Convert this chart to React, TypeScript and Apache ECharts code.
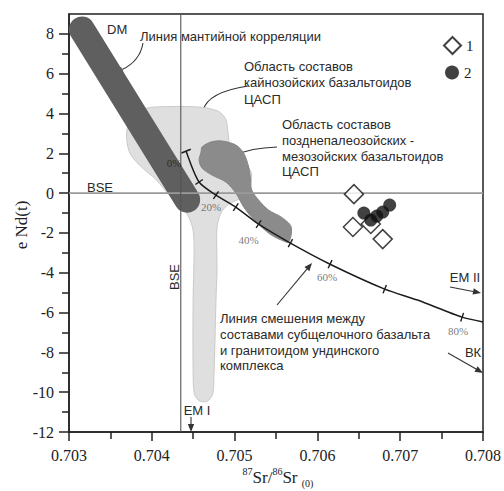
import React, { useEffect, useRef } from "react";
import * as echarts from "echarts";

// ---------- data ----------
const xTickValues = [0.703, 0.704, 0.705, 0.706, 0.707, 0.708];
const yMajorTicks = [-12, -10, -8, -6, -4, -2, 0, 2, 4, 6, 8];
const yMinorTicks = [-11, -9, -7, -5, -3, -1, 1, 3, 5, 7];

// Cenozoic basaltoids field (light grey)
const cenozoicArea: [number, number][] = [
  [0.703695, 3.02], [0.70375, 3.8], [0.70388, 4.2], [0.70405, 4.33],
  [0.70455, 4.33], [0.7048, 4.12], [0.704895, 3.7], [0.70492, 3.02],
  [0.704954, 2.17], [0.70505, 1.56], [0.70517, 1.26], [0.705206, 0.91],
  [0.70517, 0.16], [0.705074, -0.25], [0.70493, -0.55], [0.704835, -1.0],
  [0.704787, -1.75], [0.704787, -3.36], [0.704787, -4.01], [0.704775, -5.37],
  [0.704763, -7.38], [0.704751, -9.14], [0.704735, -10.1], [0.70467, -10.45],
  [0.70458, -10.45], [0.704515, -10.1], [0.704499, -8.89], [0.704499, -5.37],
  [0.704511, -2.86], [0.704499, -1.86], [0.704451, -1.25], [0.704367, -0.7],
  [0.704211, -0.09], [0.704055, 0.66], [0.703851, 1.41], [0.70373, 2.06],
];

// Late Paleozoic - Mesozoic basaltoids field (mid grey)
const paleoMesoArea: [number, number][] = [
  [0.704607, 2.32], [0.704715, 2.57], [0.704847, 2.62], [0.705014, 2.42],
  [0.70511, 2.01], [0.70517, 1.31], [0.705194, 0.66], [0.705206, 0.16],
  [0.70529, -0.35], [0.70541, -0.85], [0.705566, -1.21], [0.705674, -1.61],
  [0.705686, -2.01], [0.70565, -2.46], [0.705566, -2.36], [0.705446, -2.11],
  [0.705326, -1.71], [0.705206, -1.21], [0.70511, -0.7], [0.705014, 0.01],
  [0.704894, 0.56], [0.704727, 0.91], [0.704607, 1.26], [0.704571, 1.66],
  [0.704595, 2.06],
];

// Mantle correlation line (DM band)
const dmBand: [number, number][] = [
  [0.703156, 8.22],
  [0.704427, -0.33],
];

// BSE reference lines
const bseNdLine: [number, number][] = [[0.703, 0], [0.708, 0]];
const bseSrLine: [number, number][] = [[0.70435, -12], [0.70435, 9]];

// Mixing line between subalkaline basalt and Unda granitoid
const mixingLine: [number, number][] = [
  [0.704415, 2.11], [0.704571, 0.56], [0.704775, -0.1], [0.705014, -0.7],
  [0.70529, -1.56], [0.705674, -2.51], [0.706153, -3.57], [0.706813, -4.82],
  [0.707209, -5.37], [0.707748, -6.23], [0.708, -6.47],
];
const mixingTickFlags = [true, true, true, true, true, true, true, true, false, true, false];
const mixingPercentLabels = ["0%", "", "20%", "", "40%", "", "60%", "", "", "80%", ""];

// Samples
const group1Sr = [0.706441, 0.706429, 0.706645, 0.706789];
const group1Nd = [-0.05, -1.7, -1.55, -2.31];
const group2Sr = [0.706873, 0.706789, 0.706561, 0.706645, 0.706717];
const group2Nd = [-0.6, -0.95, -1.0, -1.35, -1.15];

// ---------- layout / style ----------
const W = 504;
const H = 491;
const GRID = { left: 69, right: 18, top: 14, bottom: 59 };
const X_MIN = 0.703;
const X_MAX = 0.708;
const Y_MIN = -12;
const Y_MAX = 9;
const PX_PER_X = (W - GRID.left - GRID.right) / (X_MAX - X_MIN);
const PX_PER_Y = (H - GRID.top - GRID.bottom) / (Y_MAX - Y_MIN);

const percentOffsets: [number, number][] = [
  [-12, 12], [0, 0], [-5, 12], [0, 0], [-10, 16], [0, 0], [-3, 13], [0, 0], [0, 0], [-4, 14], [0, 0],
];
const percentColors = ["#1e1e1e", "", "#555", "", "#555", "", "#555", "", "", "#555", ""];

const SANS = `"Liberation Sans", Arial, sans-serif`;
const SERIF = `"Liberation Serif", "Times New Roman", serif`;
const INK = "#222";

function tickRotation(i: number): number {
  const a = mixingLine[Math.max(0, i - 1)];
  const b = mixingLine[Math.min(mixingLine.length - 1, i + 1)];
  const dx = (b[0] - a[0]) * PX_PER_X;
  const dy = (b[1] - a[1]) * PX_PER_Y;
  return (Math.atan2(dy, dx) * 180) / Math.PI;
}

function arrow(x1: number, y1: number, x2: number, y2: number, cx?: number, cy?: number): any[] {
  const ctrlX = cx ?? (x1 + x2) / 2;
  const ctrlY = cy ?? (y1 + y2) / 2;
  const dx = x2 - ctrlX;
  const dy = y2 - ctrlY;
  const len = Math.hypot(dx, dy) || 1;
  const ux = dx / len;
  const uy = dy / len;
  const headLen = 8;
  const headW = 3.2;
  const bx = x2 - ux * headLen;
  const by = y2 - uy * headLen;
  return [
    {
      type: "bezierCurve",
      silent: true,
      shape: { x1, y1, x2: bx, y2: by, cpx1: ctrlX, cpy1: ctrlY },
      style: { stroke: "#333", lineWidth: 1.1, fill: "none" },
    },
    {
      type: "polygon",
      silent: true,
      shape: {
        points: [
          [x2, y2],
          [bx - uy * headW, by + ux * headW],
          [bx + uy * headW, by - ux * headW],
        ],
      },
      style: { fill: "#333", stroke: "none" },
    },
  ];
}

function text(str: string, x: number, y: number, opts: any = {}): any {
  return {
    type: "text",
    silent: true,
    x,
    y,
    rotation: opts.rotation ?? 0,
    style: {
      text: str,
      font: opts.font ?? `13px ${SANS}`,
      fill: opts.fill ?? "#2a2a2a",
      align: opts.align ?? "left",
      verticalAlign: opts.verticalAlign ?? "middle",
      lineHeight: opts.lineHeight ?? 16,
    },
  };
}

function polygonSeries(name: string, pts: [number, number][], fill: string, stroke: string, z: number) {
  return {
    type: "custom",
    name,
    coordinateSystem: "cartesian2d",
    silent: true,
    z,
    data: [pts[0]],
    renderItem: (_params: any, api: any) => ({
      type: "polygon",
      shape: { points: pts.map((p) => api.coord(p)), smooth: 0.3 },
      style: { fill, stroke, lineWidth: 1 },
    }),
  };
}

function buildOption(): any {
  const mixingData = mixingLine.map((p, i) => {
    if (!mixingTickFlags[i]) return { value: p, symbol: "none" };
    return {
      value: p,
      symbol: "rect",
      symbolSize: i === 0 ? [1.6, 10] : [1.4, 9],
      symbolRotate: tickRotation(i),
    };
  });

  const percentData = mixingLine
    .map((p, i) => ({ p, i }))
    .filter(({ i }) => mixingPercentLabels[i] !== "")
    .map(({ p, i }) => ({
      value: p,
      label: {
        show: true,
        position: "inside",
        offset: percentOffsets[i],
        formatter: mixingPercentLabels[i],
        color: percentColors[i],
      },
    }));

  const graphics: any[] = [
    text("DM", 107, 29),
    text("Линия мантийной корреляции", 140, 36),
    text("Область составов\nкайнозойских базальтоидов\nЦАСП", 244, 58, { verticalAlign: "top", lineHeight: 16.5 }),
    text("Область составов\nпозднепалеозойских -\nмезозойских базальтоидов\nЦАСП", 282, 117, {
      verticalAlign: "top",
      lineHeight: 15.7,
    }),
    text(
      "Линия смешения между\nсоставами субщелочного базальта\nи гранитоидом ундинского\nкомплекса",
      220,
      311,
      { verticalAlign: "top", lineHeight: 15.7 }
    ),
    text("BSE", 100, 187, { align: "center" }),
    text("BSE", 174, 277, { align: "center", rotation: Math.PI / 2 }),
    text("EM I", 197, 410, { align: "center" }),
    text("EM II", 465, 277, { align: "center" }),
    text("ВК", 473, 352, { align: "center" }),
    text("e Nd(t)", 21, 225, { align: "center", rotation: Math.PI / 2, font: `17px ${SERIF}`, fill: INK }),
    {
      type: "text",
      silent: true,
      x: 278,
      y: 477,
      style: {
        text: "{sup|87}{b|Sr/}{sup|86}{b|Sr }{sub|(0)}",
        align: "center",
        verticalAlign: "middle",
        fill: INK,
        rich: {
          b: { fontFamily: SERIF, fontSize: 17, lineHeight: 22, verticalAlign: "middle", fill: INK },
          sup: { fontFamily: SERIF, fontSize: 10, lineHeight: 22, verticalAlign: "top", fill: INK },
          sub: { fontFamily: SERIF, fontSize: 10, lineHeight: 22, verticalAlign: "bottom", fill: INK },
        },
      },
    },
    ...arrow(143, 43, 115, 73, 140, 61),
    ...arrow(248, 86, 201, 118, 208, 92),
    ...arrow(277, 147, 228, 159, 250, 148),
    ...arrow(277, 305, 312, 263),
    ...arrow(450, 287, 481, 293),
    ...arrow(448, 353, 483, 373),
    ...arrow(191, 417, 191, 432),
  ];

  const axisLabelStyle = {
    fontFamily: "serif",
    fontSize: 16,
    color: INK,
  };

  return {
    animation: false,
    backgroundColor: "#ffffff",
    grid: {
      left: GRID.left,
      right: GRID.right,
      top: GRID.top,
      bottom: GRID.bottom,
      show: true,
      borderColor: INK,
      borderWidth: 1.5,
      backgroundColor: "transparent",
    },
    legend: [
      {
        data: ["1"],
        left: 438,
        top: 31,
        orient: "vertical",
        itemWidth: 17,
        itemHeight: 17,
        selectedMode: false,
        textStyle: { fontFamily: "serif", fontSize: 15, color: INK },
      },
      {
        data: ["2"],
        left: 440,
        top: 60,
        orient: "vertical",
        itemWidth: 14,
        itemHeight: 14,
        selectedMode: false,
        textStyle: { fontFamily: "serif", fontSize: 15, color: INK },
      },
    ],
    xAxis: {
      type: "value",
      min: X_MIN,
      max: X_MAX,
      interval: 0.001,
      axisLine: { show: true, onZero: false, lineStyle: { color: INK, width: 1.5 } },
      axisTick: { show: true, length: 9, lineStyle: { color: INK, width: 1.5 }, customValues: xTickValues },
      minorTick: { show: true, splitNumber: 2, length: 7, lineStyle: { color: INK, width: 1.5 } },
      splitLine: { show: false },
      axisLabel: {
        ...axisLabelStyle,
        margin: 15,
        customValues: xTickValues,
        formatter: (v: number) => v.toFixed(3),
      },
    },
    yAxis: [
      {
        type: "value",
        min: Y_MIN,
        max: Y_MAX,
        interval: 2,
        position: "left",
        axisLine: { show: true, onZero: false, lineStyle: { color: INK, width: 1.5 } },
        axisTick: { show: true, length: 10, lineStyle: { color: INK, width: 1.5 }, customValues: yMajorTicks },
        splitLine: { show: false },
        axisLabel: {
          ...axisLabelStyle,
          margin: 15,
          customValues: yMajorTicks,
          formatter: (v: number) => String(v),
        },
      },
      {
        type: "value",
        min: Y_MIN,
        max: Y_MAX,
        interval: 1,
        position: "left",
        axisLine: { show: false },
        axisTick: { show: true, length: 7, lineStyle: { color: INK, width: 1.5 }, customValues: yMinorTicks },
        axisLabel: { show: false },
        splitLine: { show: false },
      },
    ],
    series: [
      polygonSeries("cenozoic", cenozoicArea, "#dfdfdf", "#cacaca", 1),
      polygonSeries("paleoMeso", paleoMesoArea, "#8b8b8b", "#858585", 2),
      {
        type: "line",
        name: "DM",
        data: dmBand,
        symbol: "none",
        silent: true,
        z: 3,
        lineStyle: { color: "#5f5f5f", width: 26, cap: "round" },
      },
      {
        type: "line",
        name: "BSE-Nd",
        data: bseNdLine,
        symbol: "none",
        silent: true,
        z: 4,
        lineStyle: { color: "#9a9a9a", width: 1.6 },
      },
      {
        type: "line",
        name: "BSE-Sr",
        data: bseSrLine,
        symbol: "none",
        silent: true,
        z: 4,
        lineStyle: { color: "#555", width: 1.1 },
      },
      {
        type: "line",
        name: "mixing",
        data: mixingData,
        smooth: 0.25,
        silent: true,
        z: 5,
        showAllSymbol: true,
        lineStyle: { color: "#1c1c1c", width: 1.5 },
        itemStyle: { color: "#1c1c1c" },
      },
      {
        type: "scatter",
        name: "percent",
        data: percentData,
        symbolSize: 1,
        silent: true,
        z: 6,
        itemStyle: { color: "rgba(0,0,0,0)" },
        label: { fontFamily: "serif", fontSize: 11, color: "#555", textBorderWidth: 0 },
      },
      {
        type: "scatter",
        name: "1",
        data: group1Sr.map((x, i) => [x, group1Nd[i]]),
        symbol: "diamond",
        symbolSize: 19,
        z: 6,
        itemStyle: { color: "#ffffff", borderColor: "#111", borderWidth: 1.5 },
      },
      {
        type: "scatter",
        name: "2",
        data: group2Sr.map((x, i) => [x, group2Nd[i]]),
        symbol: "circle",
        symbolSize: 13,
        z: 7,
        itemStyle: { color: "#111" },
      },
    ],
    graphic: { elements: graphics },
  };
}

export default function App() {
  const ref = useRef<HTMLDivElement>(null);
  useEffect(() => {
    if (!ref.current) return;
    const chart = echarts.init(ref.current, null, { renderer: "svg" });
    chart.setOption(buildOption());
    return () => chart.dispose();
  }, []);
  return (
    <div
      ref={ref}
      style={{ position: "fixed", left: 0, top: 0, width: W, height: H, background: "#fff" }}
    />
  );
}
